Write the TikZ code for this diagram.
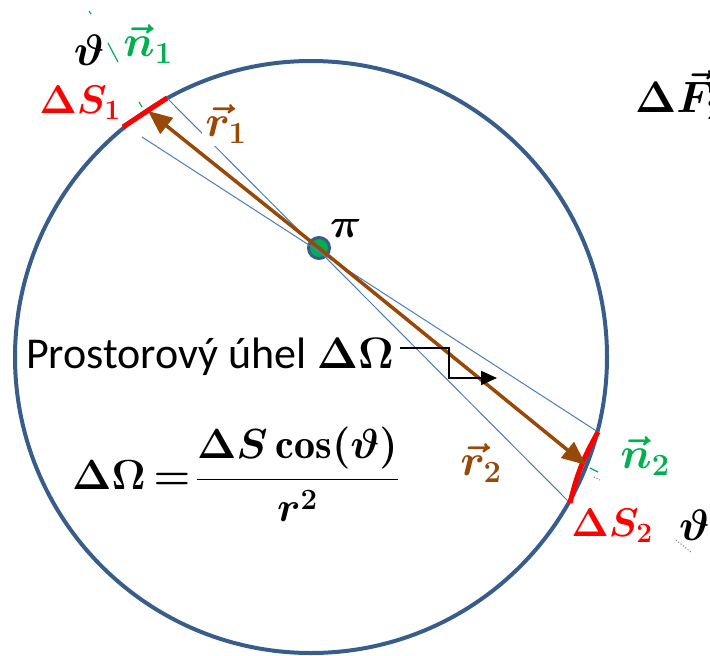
\RequirePackage{fix-cm}
\documentclass[tikz,border=0pt]{standalone}
\usepackage{fontspec}
\newfontfamily\carlito{Carlito}
\usepackage{amsmath,bm}
\usetikzlibrary{arrows.meta}
\definecolor{kruh}{HTML}{385D8A}
\definecolor{paprsek}{HTML}{4A7EBB}
\definecolor{hneda}{HTML}{984807}
\definecolor{zelena}{HTML}{00B050}
\tikzset{
  popis/.style={font=\fontsize{44}{50}\selectfont\boldmath, inner sep=1pt},
  plocha/.style={font=\fontsize{40}{46}\selectfont\boldmath, inner sep=1pt, red},
  uhel/.style={font=\carlito\fontsize{44}{50}\selectfont, inner sep=0pt},
  rovnice/.style={font=\fontsize{42}{48}\selectfont\boldmath, inner sep=0pt},
  vektor/.style={hneda, line width=3.5pt, -{Triangle[length=24pt,width=20pt]}},
}
\begin{document}
\begin{tikzpicture}[x=1pt,y=-1pt]
        \useasboundingbox (0,0) rectangle (710,656);
        \clip (0,0) rectangle (710,656);
        %kruh
        \draw[kruh, line width=4pt] (311,357) circle[radius=296pt];
        \coordinate (O) at (319,248);
        \coordinate (A1) at (123,127);
        \coordinate (B1) at (167,98);
        \coordinate (C1) at (142,137);
        \coordinate (A2) at (598,432);
        \coordinate (B2) at (570,503);
        \coordinate (P1) at (148,111);
        \coordinate (P2) at (586,465);
        \node[circle, draw=kruh, fill=zelena, line width=3pt, minimum size=21pt, inner sep=0pt] (stred) at (O) {};
        %paprsky kuzelu
        \draw[paprsek, line width=1pt] (B1) -- (B2) (C1) -- (A2);
        %plosky
        \draw[red, line width=5pt] (A1) -- (B1);
        \draw[red, line width=5pt] (A2) to[bend right=8] (B2);
        %normaly
        \draw[zelena, line width=1.2pt] (142,107) -- (139,102) (118,62) -- (108,43) (91,14) -- (89,11);
        \draw[zelena, line width=1.2pt] (590,468) -- (598,472);
        \draw[paprsek, line width=1pt, dotted] (594,477) -- (600,480) (676,540) -- (692,553);
        %polohove vektory
        \draw[vektor] (stred.center) -- (P1);
        \draw[vektor] (stred.center) -- (P2);
        %popisky
        \node[plocha] (dS1) at (80,103) {$\Delta S_1$};
        \node[popis, zelena] (n1) at (148,44) {$\vec{n}_1$};
        \node[popis] (th1) at (89,50) {$\vartheta$};
        \node[popis, hneda, fill=white, inner sep=3pt] (r1) at (226,124) {$\vec{r}_1$};
        \node[popis, anchor=west] (F2) at (634,95) {$\Delta\vec{F}_2$};
        \begin{scope}
        \clip (320,219) rectangle (375,250);
        \node[popis] (pi) at (346,228) {$\pi$};
        \end{scope}
        \node[popis, hneda, fill=white, inner sep=4pt] (r2) at (481,463) {$\vec{r}_2$};
        \node[popis, zelena] (n2) at (645,456) {$\vec{n}_2$};
        \node[plocha] (dS2) at (612,526) {$\Delta S_2$};
        \node[popis, anchor=west] (th2) at (678,525) {$\vartheta$};
        \node[uhel, anchor=west] (prost) at (26,357) {Prostorový úhel $\bm{\Delta\Omega}$};
        \node[rovnice, anchor=west] (vzorec) at (72,474) {$\displaystyle \Delta\Omega\mkern-2mu=\mkern-3mu\frac{\Delta S\cos(\vartheta)}{r^2}$};
        %sipka k uhlu
        \coordinate (k1) at (400,348);
        \coordinate (k2) at (497,378);
        \draw[line width=2pt, -{Triangle[length=16pt,width=14pt]}] (k1) -| (449,378) -- (k2);
\end{tikzpicture}
\end{document}
